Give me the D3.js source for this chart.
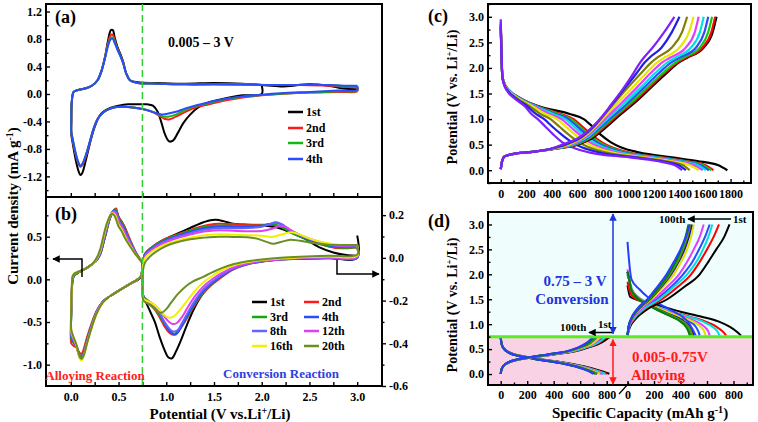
<!DOCTYPE html>
<html><head><meta charset="utf-8">
<script src="https://cdn.jsdelivr.net/npm/d3@7/dist/d3.min.js"></script>
<style>
html,body{margin:0;padding:0;background:#fff;}
svg text{font-family:"Liberation Serif","Times New Roman",serif;font-weight:bold;}
</style></head><body>
<svg id="chart" width="758" height="422"></svg>
<script>
// ---------------- DATA ----------------
// Panel (a): CV curves, [potential V, current mA/g]
const aNames = ["1st","2nd","3rd","4th"];
const aColors = ["#000000","#ff1a1a","#14b814","#2a4bff"];
const aCycle1 = [[2.0,0.12],[2.0,0.0],[1.8,-0.02],[1.6,-0.07],[1.45,-0.12],[1.33,-0.2],[1.25,-0.3],[1.18,-0.42],[1.12,-0.57],[1.07,-0.68],[1.03,-0.69],[0.99,-0.6],[0.95,-0.42],[0.91,-0.26],[0.86,-0.17],[0.8,-0.15],[0.7,-0.15],[0.6,-0.15],[0.5,-0.17],[0.42,-0.2],[0.35,-0.25],[0.3,-0.32],[0.25,-0.48],[0.2,-0.72],[0.16,-0.95],[0.12,-1.15],[0.1,-1.18],[0.08,-1.12],[0.05,-0.95],[0.02,-0.72],[0.005,-0.58],[0.005,-0.4],[0.01,-0.12],[0.03,0.03],[0.08,0.06],[0.15,0.08],[0.22,0.12],[0.28,0.2],[0.32,0.33],[0.36,0.55],[0.39,0.78],[0.42,0.93],[0.44,0.93],[0.46,0.82],[0.49,0.68],[0.52,0.58],[0.55,0.46],[0.58,0.3],[0.62,0.2],[0.7,0.17],[0.9,0.16],[1.2,0.15],[1.5,0.16],[1.8,0.15],[2.0,0.13],[2.2,0.11],[2.5,0.14],[2.7,0.12],[2.85,0.08],[3.0,0.07]];
const aCycle2 = [[3.0,0.1],[3.0,0.04],[2.8,0.03],[2.5,0.02],[2.2,0.0],[2.0,-0.02],[1.8,-0.05],[1.6,-0.1],[1.45,-0.15],[1.3,-0.2],[1.2,-0.26],[1.1,-0.33],[1.03,-0.37],[0.98,-0.36],[0.92,-0.31],[0.85,-0.26],[0.75,-0.22],[0.6,-0.19],[0.48,-0.19],[0.4,-0.22],[0.33,-0.28],[0.28,-0.36],[0.24,-0.5],[0.2,-0.7],[0.16,-0.9],[0.12,-1.04],[0.1,-1.06],[0.08,-1.02],[0.05,-0.88],[0.02,-0.68],[0.005,-0.56],[0.005,-0.4],[0.01,-0.12],[0.03,0.03],[0.08,0.06],[0.15,0.08],[0.22,0.12],[0.28,0.2],[0.32,0.33],[0.36,0.55],[0.39,0.74],[0.42,0.86],[0.44,0.86],[0.46,0.78],[0.49,0.66],[0.52,0.56],[0.55,0.45],[0.58,0.3],[0.62,0.2],[0.7,0.16],[0.9,0.15],[1.2,0.14],[1.5,0.14],[1.8,0.14],[2.1,0.13],[2.4,0.13],[2.7,0.12],[2.9,0.1],[3.0,0.1]];
const aCycle3 = [[3.0,0.1],[3.0,0.05],[2.8,0.04],[2.5,0.02],[2.2,0.005],[2.0,-0.015],[1.8,-0.04],[1.6,-0.08],[1.45,-0.13],[1.3,-0.18],[1.2,-0.23],[1.1,-0.3],[1.02,-0.33],[0.97,-0.33],[0.91,-0.29],[0.84,-0.25],[0.75,-0.22],[0.6,-0.19],[0.48,-0.19],[0.4,-0.22],[0.33,-0.28],[0.28,-0.37],[0.24,-0.5],[0.2,-0.69],[0.16,-0.88],[0.12,-1.02],[0.1,-1.05],[0.08,-1.0],[0.05,-0.86],[0.02,-0.66],[0.005,-0.55],[0.005,-0.4],[0.01,-0.12],[0.03,0.03],[0.08,0.06],[0.15,0.08],[0.22,0.12],[0.28,0.2],[0.32,0.33],[0.36,0.54],[0.39,0.72],[0.42,0.82],[0.44,0.82],[0.46,0.76],[0.49,0.65],[0.52,0.55],[0.55,0.44],[0.58,0.3],[0.62,0.2],[0.7,0.16],[0.9,0.15],[1.2,0.14],[1.5,0.14],[1.8,0.14],[2.1,0.13],[2.4,0.13],[2.7,0.13],[2.9,0.11],[3.0,0.1]];
const aCycle4 = [[3.0,0.12],[3.0,0.06],[2.8,0.05],[2.5,0.03],[2.2,0.01],[2.0,-0.01],[1.8,-0.035],[1.6,-0.075],[1.45,-0.12],[1.3,-0.17],[1.2,-0.21],[1.1,-0.26],[1.0,-0.29],[0.95,-0.3],[0.9,-0.28],[0.83,-0.25],[0.75,-0.22],[0.6,-0.19],[0.48,-0.19],[0.4,-0.22],[0.33,-0.28],[0.28,-0.37],[0.24,-0.5],[0.2,-0.69],[0.16,-0.88],[0.12,-1.02],[0.1,-1.05],[0.08,-1.0],[0.05,-0.86],[0.02,-0.66],[0.005,-0.55],[0.005,-0.4],[0.01,-0.12],[0.03,0.03],[0.08,0.06],[0.15,0.08],[0.22,0.12],[0.28,0.2],[0.32,0.33],[0.36,0.53],[0.39,0.7],[0.42,0.8],[0.44,0.8],[0.46,0.74],[0.49,0.64],[0.52,0.55],[0.55,0.44],[0.58,0.3],[0.62,0.2],[0.7,0.16],[0.9,0.15],[1.2,0.14],[1.5,0.14],[1.8,0.135],[2.1,0.13],[2.4,0.13],[2.7,0.13],[2.9,0.12],[3.0,0.12]];
const aYTicks = [-1.2,-0.8,-0.4,0,0.4,0.8,1.2];
const abXTicks = [0,0.5,1.0,1.5,2.0,2.5,3.0];

// Panel (b): 8 cycles; alloying (left axis) and conversion (right axis)
const bNames = ["1st","2nd","3rd","4th","8th","12th","16th","20th"];
const bColors = ["#000000","#ff1a1a","#12a812","#2a4bff","#6464ff","#e040f0","#f0f000","#6b8e23"];
const bAlloy1 = [[0.75,0.19],[0.735,0.03],[0.7,-0.01],[0.64,-0.04],[0.55,-0.1],[0.45,-0.17],[0.38,-0.22],[0.33,-0.27],[0.27,-0.38],[0.22,-0.53],[0.17,-0.7],[0.135,-0.85],[0.115,-0.91],[0.1,-0.91],[0.08,-0.86],[0.06,-0.79],[0.03,-0.74],[0.006,-0.7],[0.002,-0.56],[0.005,-0.36],[0.01,-0.17],[0.02,0.0],[0.04,0.05],[0.08,0.08],[0.13,0.11],[0.19,0.15],[0.24,0.19],[0.28,0.24],[0.31,0.3],[0.34,0.42],[0.37,0.55],[0.4,0.68],[0.43,0.77],[0.46,0.81],[0.48,0.79],[0.5,0.73],[0.53,0.68],[0.56,0.62],[0.59,0.53],[0.62,0.45],[0.67,0.33],[0.72,0.24],[0.75,0.19]];
const bAlloy2 = [[0.75,0.2],[0.735,0.04],[0.7,0.0],[0.64,-0.04],[0.55,-0.1],[0.45,-0.17],[0.38,-0.22],[0.33,-0.27],[0.27,-0.37],[0.22,-0.51],[0.17,-0.68],[0.135,-0.82],[0.115,-0.87],[0.1,-0.87],[0.08,-0.84],[0.06,-0.8],[0.03,-0.78],[0.006,-0.75],[0.0,-0.6],[0.004,-0.38],[0.01,-0.18],[0.02,0.0],[0.04,0.05],[0.08,0.08],[0.13,0.11],[0.19,0.15],[0.24,0.19],[0.28,0.24],[0.31,0.3],[0.34,0.42],[0.37,0.55],[0.4,0.68],[0.43,0.78],[0.46,0.82],[0.475,0.83],[0.49,0.77],[0.51,0.71],[0.54,0.66],[0.57,0.6],[0.6,0.52],[0.63,0.44],[0.68,0.32],[0.72,0.25],[0.75,0.2]];
const bAlloy3 = [[0.75,0.2],[0.735,0.04],[0.7,0.0],[0.64,-0.04],[0.55,-0.1],[0.45,-0.17],[0.38,-0.22],[0.33,-0.27],[0.27,-0.38],[0.22,-0.53],[0.17,-0.71],[0.135,-0.86],[0.115,-0.9],[0.1,-0.9],[0.08,-0.85],[0.06,-0.78],[0.03,-0.74],[0.006,-0.7],[0.002,-0.56],[0.005,-0.36],[0.01,-0.17],[0.02,0.01],[0.04,0.05],[0.08,0.08],[0.13,0.11],[0.19,0.15],[0.24,0.19],[0.28,0.24],[0.31,0.3],[0.34,0.42],[0.37,0.55],[0.4,0.68],[0.43,0.77],[0.46,0.82],[0.47,0.82],[0.49,0.76],[0.51,0.7],[0.54,0.65],[0.57,0.58],[0.6,0.5],[0.63,0.43],[0.68,0.31],[0.72,0.24],[0.75,0.2]];
const bAlloy4 = [[0.75,0.2],[0.735,0.04],[0.7,0.0],[0.64,-0.04],[0.55,-0.1],[0.45,-0.17],[0.38,-0.22],[0.33,-0.27],[0.27,-0.39],[0.22,-0.54],[0.17,-0.72],[0.135,-0.87],[0.115,-0.92],[0.1,-0.92],[0.08,-0.87],[0.06,-0.79],[0.03,-0.73],[0.006,-0.68],[0.002,-0.55],[0.005,-0.35],[0.01,-0.16],[0.02,0.01],[0.04,0.06],[0.08,0.09],[0.13,0.11],[0.19,0.15],[0.24,0.19],[0.28,0.24],[0.31,0.31],[0.34,0.44],[0.37,0.57],[0.4,0.7],[0.43,0.78],[0.455,0.81],[0.47,0.8],[0.49,0.74],[0.51,0.68],[0.54,0.63],[0.57,0.56],[0.6,0.49],[0.63,0.42],[0.68,0.31],[0.72,0.24],[0.75,0.2]];
const bAlloy8 = [[0.75,0.2],[0.735,0.04],[0.7,0.0],[0.64,-0.04],[0.55,-0.1],[0.45,-0.17],[0.38,-0.22],[0.33,-0.27],[0.27,-0.39],[0.22,-0.55],[0.17,-0.73],[0.135,-0.88],[0.115,-0.93],[0.1,-0.93],[0.08,-0.87],[0.06,-0.79],[0.03,-0.72],[0.006,-0.66],[0.002,-0.54],[0.005,-0.34],[0.01,-0.15],[0.02,0.02],[0.04,0.06],[0.08,0.09],[0.13,0.11],[0.19,0.15],[0.24,0.19],[0.28,0.25],[0.31,0.32],[0.34,0.45],[0.37,0.58],[0.4,0.7],[0.43,0.78],[0.45,0.8],[0.47,0.79],[0.49,0.73],[0.51,0.67],[0.54,0.62],[0.57,0.55],[0.6,0.48],[0.63,0.41],[0.68,0.3],[0.72,0.24],[0.75,0.2]];
const bAlloy12 = [[0.75,0.2],[0.735,0.04],[0.7,0.0],[0.64,-0.04],[0.55,-0.1],[0.45,-0.17],[0.38,-0.22],[0.33,-0.27],[0.27,-0.39],[0.22,-0.55],[0.17,-0.74],[0.135,-0.89],[0.115,-0.93],[0.1,-0.93],[0.08,-0.87],[0.06,-0.78],[0.03,-0.7],[0.006,-0.64],[0.002,-0.53],[0.005,-0.33],[0.01,-0.14],[0.02,0.03],[0.04,0.07],[0.08,0.09],[0.13,0.11],[0.19,0.15],[0.24,0.19],[0.28,0.25],[0.31,0.33],[0.34,0.46],[0.37,0.59],[0.4,0.71],[0.43,0.78],[0.445,0.79],[0.465,0.78],[0.49,0.72],[0.51,0.66],[0.54,0.6],[0.57,0.53],[0.6,0.46],[0.63,0.4],[0.68,0.3],[0.72,0.24],[0.75,0.2]];
const bAlloy16 = [[0.75,0.2],[0.735,0.04],[0.7,0.0],[0.64,-0.04],[0.55,-0.1],[0.45,-0.17],[0.38,-0.22],[0.33,-0.28],[0.27,-0.4],[0.22,-0.56],[0.17,-0.75],[0.135,-0.9],[0.115,-0.95],[0.1,-0.94],[0.08,-0.88],[0.06,-0.78],[0.03,-0.69],[0.006,-0.62],[0.002,-0.52],[0.005,-0.32],[0.01,-0.13],[0.02,0.04],[0.04,0.07],[0.08,0.09],[0.13,0.11],[0.19,0.15],[0.24,0.19],[0.28,0.26],[0.31,0.34],[0.34,0.48],[0.37,0.61],[0.4,0.72],[0.425,0.77],[0.44,0.775],[0.46,0.76],[0.48,0.71],[0.5,0.64],[0.53,0.59],[0.56,0.52],[0.59,0.45],[0.63,0.38],[0.68,0.29],[0.72,0.24],[0.75,0.2]];
const bAlloy20 = [[0.75,0.2],[0.735,0.04],[0.7,0.0],[0.64,-0.04],[0.55,-0.1],[0.45,-0.17],[0.38,-0.22],[0.33,-0.28],[0.27,-0.4],[0.22,-0.56],[0.17,-0.75],[0.135,-0.89],[0.115,-0.93],[0.1,-0.92],[0.08,-0.86],[0.06,-0.77],[0.03,-0.68],[0.006,-0.6],[0.002,-0.5],[0.005,-0.3],[0.01,-0.12],[0.02,0.04],[0.04,0.07],[0.08,0.09],[0.13,0.11],[0.19,0.15],[0.24,0.2],[0.28,0.27],[0.31,0.36],[0.34,0.5],[0.37,0.63],[0.4,0.72],[0.42,0.76],[0.435,0.765],[0.455,0.75],[0.475,0.7],[0.5,0.62],[0.53,0.57],[0.56,0.5],[0.59,0.44],[0.63,0.37],[0.68,0.29],[0.72,0.24],[0.75,0.2]];
const bConv1 = [[3.0,0.105],[3.0,0.0],[2.7,-0.002],[2.4,-0.004],[2.2,-0.007],[2.0,-0.013],[1.85,-0.025],[1.7,-0.05],[1.58,-0.08],[1.48,-0.12],[1.38,-0.17],[1.3,-0.23],[1.22,-0.31],[1.15,-0.39],[1.1,-0.44],[1.06,-0.47],[1.02,-0.465],[0.98,-0.43],[0.93,-0.37],[0.88,-0.3],[0.83,-0.25],[0.78,-0.2],[0.755,-0.17],[0.75,-0.1],[0.755,-0.02],[0.78,0.02],[0.85,0.05],[0.95,0.08],[1.05,0.1],[1.15,0.12],[1.25,0.14],[1.35,0.16],[1.45,0.175],[1.52,0.178],[1.6,0.172],[1.7,0.16],[1.85,0.155],[2.0,0.153],[2.15,0.143],[2.3,0.12],[2.45,0.09],[2.6,0.05],[2.75,0.025],[2.9,0.012],[3.0,0.01]];
const bConv2 = [[3.0,0.05],[3.0,0.005],[2.7,0.003],[2.4,-0.002],[2.2,-0.008],[2.0,-0.018],[1.85,-0.03],[1.7,-0.055],[1.58,-0.09],[1.48,-0.125],[1.38,-0.17],[1.3,-0.22],[1.22,-0.28],[1.15,-0.33],[1.1,-0.355],[1.07,-0.36],[1.03,-0.35],[0.98,-0.32],[0.92,-0.27],[0.86,-0.23],[0.8,-0.2],[0.76,-0.18],[0.75,-0.1],[0.755,-0.02],[0.78,0.02],[0.85,0.05],[0.95,0.08],[1.05,0.1],[1.15,0.115],[1.25,0.13],[1.35,0.145],[1.45,0.155],[1.55,0.16],[1.7,0.158],[1.85,0.155],[2.0,0.155],[2.1,0.155],[2.2,0.145],[2.35,0.115],[2.5,0.085],[2.65,0.06],[2.8,0.045],[3.0,0.05]];
const bConv3 = [[3.0,0.05],[3.0,0.005],[2.7,0.003],[2.4,-0.001],[2.2,-0.007],[2.0,-0.016],[1.85,-0.028],[1.7,-0.05],[1.58,-0.085],[1.48,-0.12],[1.38,-0.165],[1.3,-0.215],[1.22,-0.275],[1.16,-0.32],[1.11,-0.35],[1.08,-0.355],[1.04,-0.345],[0.99,-0.315],[0.93,-0.27],[0.87,-0.23],[0.81,-0.2],[0.76,-0.18],[0.75,-0.1],[0.755,-0.02],[0.78,0.02],[0.85,0.048],[0.95,0.077],[1.05,0.097],[1.15,0.112],[1.25,0.127],[1.35,0.14],[1.45,0.148],[1.55,0.152],[1.7,0.15],[1.85,0.15],[2.0,0.152],[2.1,0.158],[2.18,0.15],[2.3,0.12],[2.45,0.09],[2.6,0.065],[2.8,0.048],[3.0,0.05]];
const bConv4 = [[3.0,0.055],[3.0,0.0],[2.7,0.0],[2.4,-0.003],[2.2,-0.008],[2.0,-0.017],[1.85,-0.03],[1.7,-0.052],[1.58,-0.085],[1.48,-0.118],[1.38,-0.16],[1.3,-0.21],[1.22,-0.27],[1.16,-0.32],[1.12,-0.35],[1.09,-0.36],[1.05,-0.35],[1.0,-0.32],[0.94,-0.27],[0.88,-0.23],[0.82,-0.21],[0.77,-0.2],[0.75,-0.12],[0.755,-0.03],[0.78,0.015],[0.85,0.045],[0.95,0.073],[1.05,0.093],[1.15,0.108],[1.25,0.122],[1.35,0.134],[1.45,0.142],[1.55,0.146],[1.7,0.145],[1.85,0.146],[2.0,0.15],[2.08,0.158],[2.15,0.165],[2.2,0.158],[2.3,0.128],[2.45,0.095],[2.6,0.07],[2.8,0.052],[3.0,0.055]];
const bConv8 = [[3.0,0.055],[3.0,0.0],[2.7,0.0],[2.4,-0.002],[2.2,-0.007],[2.0,-0.016],[1.85,-0.028],[1.7,-0.05],[1.58,-0.08],[1.48,-0.112],[1.38,-0.152],[1.3,-0.2],[1.22,-0.26],[1.16,-0.31],[1.12,-0.338],[1.08,-0.345],[1.04,-0.335],[0.99,-0.305],[0.93,-0.26],[0.87,-0.225],[0.81,-0.205],[0.77,-0.195],[0.75,-0.12],[0.755,-0.03],[0.78,0.012],[0.85,0.042],[0.95,0.07],[1.05,0.089],[1.15,0.103],[1.25,0.116],[1.35,0.128],[1.45,0.135],[1.55,0.139],[1.7,0.139],[1.85,0.14],[2.0,0.146],[2.08,0.157],[2.15,0.167],[2.21,0.158],[2.3,0.13],[2.45,0.097],[2.6,0.072],[2.8,0.055],[3.0,0.055]];
const bConv12 = [[3.0,0.06],[3.0,0.005],[2.7,0.002],[2.4,-0.001],[2.2,-0.006],[2.0,-0.014],[1.85,-0.025],[1.7,-0.045],[1.58,-0.072],[1.48,-0.1],[1.38,-0.138],[1.3,-0.18],[1.22,-0.235],[1.16,-0.28],[1.11,-0.305],[1.07,-0.31],[1.03,-0.3],[0.98,-0.275],[0.92,-0.24],[0.86,-0.215],[0.8,-0.2],[0.76,-0.19],[0.75,-0.12],[0.755,-0.03],[0.78,0.008],[0.85,0.038],[0.95,0.065],[1.05,0.083],[1.15,0.097],[1.25,0.109],[1.35,0.12],[1.45,0.126],[1.55,0.129],[1.7,0.127],[1.85,0.125],[2.0,0.126],[2.1,0.135],[2.2,0.15],[2.26,0.142],[2.35,0.118],[2.5,0.09],[2.65,0.07],[2.8,0.058],[3.0,0.06]];
const bConv16 = [[3.0,0.06],[3.0,0.01],[2.7,0.006],[2.4,0.002],[2.2,-0.003],[2.0,-0.01],[1.85,-0.02],[1.7,-0.036],[1.58,-0.058],[1.48,-0.085],[1.38,-0.118],[1.3,-0.155],[1.22,-0.2],[1.15,-0.24],[1.09,-0.27],[1.04,-0.28],[1.0,-0.275],[0.95,-0.255],[0.9,-0.23],[0.84,-0.21],[0.79,-0.2],[0.76,-0.19],[0.75,-0.12],[0.755,-0.04],[0.78,0.0],[0.85,0.03],[0.95,0.055],[1.05,0.072],[1.15,0.085],[1.25,0.095],[1.35,0.103],[1.45,0.108],[1.55,0.11],[1.7,0.108],[1.85,0.106],[2.0,0.104],[2.1,0.098],[2.2,0.108],[2.3,0.12],[2.38,0.112],[2.5,0.09],[2.65,0.072],[2.8,0.062],[3.0,0.06]];
const bConv20 = [[3.0,0.06],[3.0,0.015],[2.7,0.01],[2.4,0.005],[2.2,0.0],[2.0,-0.008],[1.85,-0.016],[1.7,-0.03],[1.58,-0.048],[1.48,-0.068],[1.38,-0.09],[1.28,-0.11],[1.2,-0.135],[1.12,-0.17],[1.05,-0.21],[1.0,-0.24],[0.96,-0.255],[0.93,-0.256],[0.89,-0.245],[0.84,-0.225],[0.79,-0.21],[0.76,-0.2],[0.75,-0.13],[0.755,-0.06],[0.78,-0.02],[0.85,0.015],[0.95,0.045],[1.05,0.065],[1.15,0.078],[1.25,0.087],[1.35,0.093],[1.45,0.097],[1.55,0.099],[1.7,0.098],[1.85,0.097],[1.95,0.09],[2.05,0.075],[2.12,0.066],[2.2,0.074],[2.3,0.085],[2.4,0.08],[2.5,0.072],[2.7,0.062],[3.0,0.06]];
const bLeftTicks = [-1.0,-0.5,0,0.5];
const bRightTicks = [-0.6,-0.4,-0.2,0,0.2];

// Panel (c): galvanostatic profiles, capacity (mAh/g) at given potentials
const cColors = ["#000000","#ff0000","#14c814","#2a4bff","#00e0e0","#e040ff","#e8e800","#808000","#2020e6","#8020ff"];
const cDisV = [2.9,1.85,1.7,1.55,1.4,1.25,1.1,1.0,0.85,0.7,0.55,0.45,0.35,0.25,0.18,0.1,0.0];
const cDisStart = [2.85,2.9,2.8,2.85,2.75,2.8,2.9,2.85,2.8,2.95];
const cDisCap = [
 [0,12,28,70,160,300,540,650,720,780,860,940,1080,1340,1540,1700,1775],
 [0,12,28,70,160,290,470,570,640,710,790,870,1000,1260,1450,1600,1665],
 [0,12,28,70,158,286,450,550,620,690,770,850,980,1240,1430,1580,1650],
 [0,12,28,70,155,280,430,530,600,670,750,830,960,1220,1410,1560,1630],
 [0,12,27,68,150,272,410,505,575,645,725,805,935,1195,1390,1540,1605],
 [0,12,26,65,145,262,380,475,545,615,695,775,905,1165,1360,1510,1580],
 [0,12,25,62,140,248,350,440,510,580,660,740,870,1130,1325,1475,1550],
 [0,12,24,58,130,228,310,390,460,530,610,690,820,1085,1285,1425,1480],
 [0,12,23,55,120,208,275,340,405,475,555,635,765,1050,1250,1390,1450],
 [0,12,22,50,110,188,240,290,350,410,480,560,690,1010,1220,1360,1420]
];
const cChgV = [0.02,0.15,0.27,0.32,0.36,0.42,0.5,0.65,0.85,1.05,1.3,1.6,1.9,2.1,2.2,2.4,2.7,3.0];
const cChgCap = [
 [0,8,30,100,250,430,600,730,830,920,1040,1170,1300,1390,1460,1590,1660,1690],
 [0,8,30,100,250,425,590,715,815,905,1025,1155,1285,1380,1450,1580,1650,1680],
 [0,8,30,100,250,420,580,705,800,890,1010,1140,1270,1365,1430,1560,1625,1655],
 [0,8,30,100,250,415,570,690,785,875,990,1115,1240,1330,1400,1530,1595,1625],
 [0,8,30,100,250,410,560,680,770,855,965,1090,1210,1300,1365,1490,1560,1590],
 [0,8,30,100,250,405,545,665,755,835,940,1060,1175,1260,1325,1450,1520,1550],
 [0,8,30,100,250,400,530,650,740,815,910,1025,1140,1220,1280,1400,1475,1510],
 [0,8,30,100,250,395,515,640,730,800,885,990,1100,1175,1225,1340,1420,1460],
 [0,8,30,100,250,392,500,630,725,795,875,970,1065,1125,1165,1260,1340,1400],
 [0,8,30,100,250,390,480,620,720,795,870,960,1040,1090,1120,1190,1280,1360]
];
const cXTicks = [0,200,400,600,800,1000,1200,1400,1600,1800];
const cdYTicks = [0,0.5,1.0,1.5,2.0,2.5,3.0];

// Panel (d): split-window cycling (1st ... 100th)
const dColors = ["#000000","#ff0000","#2a4bff","#00e0e0","#e040ff","#e0e000","#101090","#808000","#20b020","#0a7a0a","#2a3cff"];
const dStartV = [1.78,1.85,2.05,2.0,2.1,2.0,2.05,2.0,2.0,2.05,2.65];
const rdV = [1.9,1.7,1.55,1.45,1.35,1.25,1.15,1.05,0.95,0.85,0.77];
const rdCap = [
 [null,null,20,130,270,400,560,690,770,825,857],
 [null,12,40,110,215,330,470,590,670,720,745],
 [12,30,70,125,200,290,390,470,515,535,545],
 [12,35,80,140,225,330,460,570,640,680,695],
 [12,32,75,130,210,305,420,520,580,610,620],
 [12,30,72,128,205,295,400,495,550,580,590],
 [12,28,68,120,190,270,360,430,470,490,500],
 [12,28,66,118,185,262,350,420,460,480,490],
 [12,27,64,115,180,255,340,410,450,470,480],
 [12,26,62,112,175,250,330,400,440,460,470],
 [30,90,150,210,280,350,415,455,480,500,515]
];
const rcV = [0.78,0.95,1.1,1.3,1.5,1.75,2.0,2.25,2.5,2.75,3.0];
const rcCap = [
 [0,20,60,150,300,430,545,610,670,730,770],
 [0,15,50,130,260,380,480,545,600,650,690],
 [0,12,40,110,220,330,420,490,540,585,620],
 [0,14,45,120,240,350,450,520,570,610,640],
 [0,12,38,100,200,300,390,450,500,545,575],
 [0,10,32,90,180,270,350,405,450,480,500],
 [0,9,30,85,170,255,330,385,430,462,485],
 [0,9,30,82,165,250,322,378,420,452,475],
 [0,8,28,80,160,245,315,370,412,445,468],
 [0,8,27,78,158,240,310,362,405,438,460],
 [0,8,25,70,150,225,295,350,400,440,470]
];
const ldV = [0.75,0.62,0.52,0.43,0.37,0.33,0.28,0.24,0.19,0.12,0.05,0.005];
const ldCap = [
 [0,5,22,70,140,230,340,450,560,680,770,820],
 [0,5,22,68,136,225,332,440,548,665,752,800],
 [0,5,21,66,132,220,325,430,535,645,730,775],
 [0,5,21,67,134,222,328,435,540,655,740,790],
 [0,5,21,65,130,215,320,423,527,635,715,760],
 [0,5,21,64,128,212,316,418,520,628,706,750],
 [0,5,20,62,124,206,308,408,510,614,688,728],
 [0,5,20,62,124,205,306,406,508,612,686,725],
 [0,5,20,61,122,203,304,404,505,608,680,718],
 [0,5,20,61,122,202,302,402,503,605,676,712],
 [0,5,20,60,120,200,300,400,500,600,670,700]
];
const lcV = [0.005,0.08,0.16,0.24,0.29,0.33,0.37,0.41,0.46,0.53,0.63,0.75];
const lcCap = [
 [0,5,22,70,140,230,340,450,570,660,760,825],
 [0,5,22,68,137,226,334,443,560,648,745,805],
 [0,5,21,66,133,221,327,433,546,632,725,780],
 [0,5,21,67,135,223,330,438,552,640,735,792],
 [0,5,21,65,131,216,321,425,537,620,712,765],
 [0,5,21,64,129,213,317,420,530,612,703,755],
 [0,5,20,62,125,207,309,410,516,596,680,730],
 [0,5,20,62,124,206,307,408,514,594,677,726],
 [0,5,20,61,123,204,305,405,510,590,670,720],
 [0,5,20,61,122,202,303,403,506,586,664,712],
 [0,5,20,60,120,200,300,400,500,580,650,700]
];
const dXTicks = [0,200,400,600,800];

// ---------------- DRAWING ----------------
const svg = d3.select("#chart");
const defs = svg.append("defs");
function mk(id, color){
  defs.append("marker").attr("id",id).attr("viewBox","0 0 10 10").attr("refX",9).attr("refY",5)
    .attr("markerWidth",5).attr("markerHeight",5).attr("orient","auto-start-reverse")
    .append("path").attr("d","M0,0L10,5L0,10z").attr("fill",color);
}
mk("arrK","#000"); mk("arrB","#2233dd"); mk("arrR","#ff1a1a");
const fmt1 = d => d.toFixed(1);
function styleAxis(g, fs){
  g.attr("font-size", fs||12);
  g.select(".domain").remove();
  g.selectAll("line").attr("stroke","#000").attr("stroke-width",1.4);
  g.selectAll("text").attr("fill","#000");
}
function ax(gen, tx, ty){ const g = svg.append("g").attr("transform",`translate(${tx},${ty})`).call(gen); styleAxis(g); return g; }

// Scales
const xAB = d3.scaleLinear().domain([-0.26,3.26]).range([46,382]);
const yA = d3.scaleLinear().domain([-1.5,1.31]).range([197,4]);
const yBL = d3.scaleLinear().domain([-1.25,0.965]).range([386,197]);
const yBR = d3.scaleLinear().domain([-0.6,0.285]).range([386,197]);
const xC = d3.scaleLinear().domain([-100,1960]).range([488,751]);
const yC = d3.scaleLinear().domain([-0.25,3.25]).range([183,4]);
const xDL = d3.scaleLinear().domain([0,800]).range([500.7,606.7]);
const xDR = d3.scaleLinear().domain([0,800]).range([627.5,733.5]);
const yD = d3.scaleLinear().domain([-0.22,3.25]).range([385,212]);

const lineCR = (sx, sy) => d3.line().x(d=>sx(d[0])).y(d=>sy(d[1])).curve(d3.curveCatmullRom.alpha(0.5));
const lineMX = (sx, sy) => d3.line().x(d=>sx(d[0])).y(d=>sy(d[1])).curve(d3.curveMonotoneX);

// ----- Panel (d) background -----
svg.append("rect").attr("x",488).attr("y",212).attr("width",265).attr("height",yD(0.75)-212).attr("fill","#effdfd");
svg.append("rect").attr("x",488).attr("y",yD(0.75)).attr("width",265).attr("height",385-yD(0.75)).attr("fill","#f9d3e5");

// ----- Panel (a) -----
const aCurves = [aCycle1,aCycle2,aCycle3,aCycle4];
aCurves.forEach((c,i)=>{
  svg.append("path").attr("d",lineCR(xAB,yA)(c)).attr("fill","none").attr("stroke",aColors[i]).attr("stroke-width",2);
});
// ----- Panel (b) -----
const bAlloy = [bAlloy1,bAlloy2,bAlloy3,bAlloy4,bAlloy8,bAlloy12,bAlloy16,bAlloy20];
const bConv = [bConv1,bConv2,bConv3,bConv4,bConv8,bConv12,bConv16,bConv20];
bAlloy.forEach((c,i)=>{
  svg.append("path").attr("d",lineCR(xAB,yBL)(c)).attr("fill","none").attr("stroke",bColors[i]).attr("stroke-width",2);
});
bConv.forEach((c,i)=>{
  svg.append("path").attr("d",lineCR(xAB,yBR)(c)).attr("fill","none").attr("stroke",bColors[i]).attr("stroke-width",2);
});

// frames a, b
svg.append("rect").attr("x",46).attr("y",4).attr("width",336).attr("height",193).attr("fill","none").attr("stroke","#000").attr("stroke-width",2);
svg.append("rect").attr("x",46).attr("y",197).attr("width",336).attr("height",189).attr("fill","none").attr("stroke","#000").attr("stroke-width",2);

// axes a
const abMinor = [0,0.25,0.5,0.75,1.0,1.25,1.5,1.75,2.0,2.25,2.5,2.75,3.0];
ax(d3.axisBottom(xAB).tickValues(abMinor).tickSize(-4).tickFormat(""),0,197);
ax(d3.axisLeft(yA).tickValues(aYTicks).tickSize(-4).tickPadding(4).tickFormat(fmt1),46,0);
ax(d3.axisLeft(yA).tickValues([-1.4,-1.0,-0.6,-0.2,0.2,0.6,1.0]).tickSize(-2.5).tickFormat(""),46,0);
// axes b
ax(d3.axisBottom(xAB).tickValues(abMinor).tickSize(-4).tickFormat(""),0,386);
ax(d3.axisBottom(xAB).tickValues(abXTicks).tickSize(0).tickPadding(6).tickFormat(fmt1),0,386);
ax(d3.axisLeft(yBL).tickValues(bLeftTicks).tickSize(-4).tickPadding(4).tickFormat(fmt1),46,0);
ax(d3.axisLeft(yBL).tickValues([-0.75,-0.25,0.25,0.75]).tickSize(-2.5).tickFormat(""),46,0);
ax(d3.axisRight(yBR).tickValues(bRightTicks).tickSize(4).tickPadding(3).tickFormat(fmt1),382,0);
ax(d3.axisRight(yBR).tickValues([-0.5,-0.3,-0.1,0.1]).tickSize(2.5).tickFormat(""),382,0);

// green dashed separator
svg.append("line").attr("x1",xAB(0.75)).attr("x2",xAB(0.75)).attr("y1",4).attr("y2",386)
  .attr("stroke","#33cc33").attr("stroke-width",1.5).attr("stroke-dasharray","7,4");

// labels a
svg.append("text").attr("x",55).attr("y",23).attr("font-size",18).text("(a)");
svg.append("text").attr("x",168).attr("y",47).attr("font-size",14).text("0.005 – 3 V");
const aLegY = [112,128,143,159];
aNames.forEach((n,i)=>{
  svg.append("line").attr("x1",288).attr("x2",303).attr("y1",aLegY[i]).attr("y2",aLegY[i]).attr("stroke",aColors[i]).attr("stroke-width",2.5);
  svg.append("text").attr("x",306).attr("y",aLegY[i]+4).attr("font-size",12).text(n);
});
// labels b
svg.append("text").attr("x",55).attr("y",220).attr("font-size",18).text("(b)");
const bLegX = [252,304], bLegY = [302,317,331,346];
bNames.forEach((n,i)=>{
  const col = i%2, row = Math.floor(i/2);
  svg.append("line").attr("x1",bLegX[col]).attr("x2",bLegX[col]+15).attr("y1",bLegY[row]).attr("y2",bLegY[row]).attr("stroke",bColors[i]).attr("stroke-width",2.5);
  svg.append("text").attr("x",bLegX[col]+18).attr("y",bLegY[row]+4).attr("font-size",12).text(n);
});
svg.append("text").attr("x",95).attr("y",380).attr("text-anchor","middle").attr("font-size",13).attr("fill","#ff2020").text("Alloying Reaction");
svg.append("text").attr("x",281).attr("y",378).attr("text-anchor","middle").attr("font-size",13).attr("fill","#3040e0").text("Conversion Reaction");
// b arrows
svg.append("path").attr("d","M82,277L82,259L53,259").attr("fill","none").attr("stroke","#000").attr("stroke-width",1.5).attr("marker-end","url(#arrK)");
svg.append("path").attr("d","M337,260L337,274L379,274").attr("fill","none").attr("stroke","#000").attr("stroke-width",1.5).attr("marker-end","url(#arrK)");

// axis titles a/b
svg.append("text").attr("transform","translate(18,206) rotate(-90)").attr("text-anchor","middle").attr("font-size",15)
  .html('Current density (mA g<tspan dy="-5" font-size="10">-1</tspan><tspan dy="5">)</tspan>');
svg.append("text").attr("x",220).attr("y",419).attr("text-anchor","middle").attr("font-size",15)
  .html('Potential (V vs.Li<tspan dy="-5" font-size="10">+</tspan><tspan dy="5">/Li)</tspan>');

// ----- Panel (c) -----
cDisCap.forEach((caps,i)=>{
  const pts = caps.map((c,j)=>[c, j===0 ? cDisStart[i] : cDisV[j]]);
  svg.append("path").attr("d",lineMX(xC,yC)(pts)).attr("fill","none").attr("stroke",cColors[i]).attr("stroke-width",2.2);
});
cChgCap.forEach((caps,i)=>{
  const pts = caps.map((c,j)=>[c, cChgV[j]]);
  svg.append("path").attr("d",lineMX(xC,yC)(pts)).attr("fill","none").attr("stroke",cColors[i]).attr("stroke-width",2.2);
});
svg.append("rect").attr("x",488).attr("y",4).attr("width",263).attr("height",179).attr("fill","none").attr("stroke","#000").attr("stroke-width",2);
ax(d3.axisBottom(xC).tickValues(cXTicks).tickSize(-4).tickPadding(6).tickFormat(d3.format("d")),0,183);
ax(d3.axisBottom(xC).tickValues([100,300,500,700,900,1100,1300,1500,1700,1900]).tickSize(-2.5).tickFormat(""),0,183);
ax(d3.axisLeft(yC).tickValues(cdYTicks).tickSize(-4).tickPadding(4).tickFormat(fmt1),488,0);
ax(d3.axisLeft(yC).tickValues([-0.25,0.25,0.75,1.25,1.75,2.25,2.75,3.25]).tickSize(-2.5).tickFormat(""),488,0);
svg.append("text").attr("x",428).attr("y",22).attr("font-size",18).text("(c)");
svg.append("text").attr("transform","translate(457,97) rotate(-90)").attr("text-anchor","middle").attr("font-size",14)
  .html('Potential (V vs. Li<tspan dy="-5" font-size="9">+</tspan><tspan dy="5">/Li)</tspan>');

// ----- Panel (d) -----
ldCap.forEach((caps,i)=>{
  const pts = caps.map((c,j)=>[c, ldV[j]]);
  svg.append("path").attr("d",lineMX(xDL,yD)(pts)).attr("fill","none").attr("stroke",dColors[i]).attr("stroke-width",2);
});
lcCap.forEach((caps,i)=>{
  const pts = caps.map((c,j)=>[c, lcV[j]]);
  svg.append("path").attr("d",lineMX(xDL,yD)(pts)).attr("fill","none").attr("stroke",dColors[i]).attr("stroke-width",2);
});
rdCap.forEach((caps,i)=>{
  const pts = [[0,dStartV[i]]];
  caps.forEach((c,j)=>{ if(c!==null) pts.push([c, rdV[j]]); });
  svg.append("path").attr("d",lineMX(xDR,yD)(pts)).attr("fill","none").attr("stroke",dColors[i]).attr("stroke-width",2);
});
rcCap.forEach((caps,i)=>{
  const pts = caps.map((c,j)=>[c, rcV[j]]);
  svg.append("path").attr("d",lineMX(xDR,yD)(pts)).attr("fill","none").attr("stroke",dColors[i]).attr("stroke-width",2);
});
svg.append("line").attr("x1",488).attr("x2",753).attr("y1",yD(0.75)).attr("y2",yD(0.75)).attr("stroke","#55ee22").attr("stroke-width",3);
svg.append("rect").attr("x",488).attr("y",212).attr("width",265).attr("height",173).attr("fill","none").attr("stroke","#000").attr("stroke-width",2);
ax(d3.axisBottom(xDL).tickValues(dXTicks).tickSize(-4).tickPadding(5).tickFormat(d3.format("d")),0,385);
ax(d3.axisBottom(xDL).tickValues([100,300,500,700]).tickSize(-2.5).tickFormat(""),0,385);
ax(d3.axisBottom(xDR).tickValues(dXTicks).tickSize(-4).tickPadding(5).tickFormat(d3.format("d")),0,385);
ax(d3.axisBottom(xDR).tickValues([100,300,500,700,900]).tickSize(-2.5).tickFormat(""),0,385);
ax(d3.axisLeft(yD).tickValues(cdYTicks).tickSize(-4).tickPadding(4).tickFormat(fmt1),488,0);
ax(d3.axisLeft(yD).tickValues([0.25,0.75,1.25,1.75,2.25,2.75]).tickSize(-2.5).tickFormat(""),488,0);
svg.append("line").attr("x1",619).attr("y1",394).attr("x2",629).attr("y2",383).attr("stroke","#000").attr("stroke-width",1.2);
svg.append("line").attr("x1",613).attr("x2",613).attr("y1",yD(0.75)-3).attr("y2",214).attr("stroke","#2233dd").attr("stroke-width",1.5)
  .attr("marker-start","url(#arrB)").attr("marker-end","url(#arrB)");
svg.append("line").attr("x1",613).attr("x2",613).attr("y1",yD(0.75)+3).attr("y2",384).attr("stroke","#ff1a1a").attr("stroke-width",1.5)
  .attr("marker-start","url(#arrR)").attr("marker-end","url(#arrR)");
svg.append("text").attr("x",575).attr("y",286).attr("text-anchor","middle").attr("font-size",15).attr("fill","#2233dd").text("0.75 – 3 V");
svg.append("text").attr("x",572).attr("y",304).attr("text-anchor","middle").attr("font-size",15).attr("fill","#2233dd").text("Conversion");
svg.append("text").attr("x",670).attr("y",362).attr("text-anchor","middle").attr("font-size",15).attr("fill","#ff1a1a").text("0.005-0.75V");
svg.append("text").attr("x",658).attr("y",380).attr("text-anchor","middle").attr("font-size",15).attr("fill","#ff1a1a").text("Alloying");
svg.append("text").attr("x",659).attr("y",223).attr("font-size",11).text("100th");
svg.append("text").attr("x",733).attr("y",223).attr("font-size",11).text("1st");
svg.append("line").attr("x1",731).attr("x2",688).attr("y1",219).attr("y2",219).attr("stroke","#000").attr("stroke-width",1.5).attr("marker-end","url(#arrK)");
svg.append("text").attr("x",560).attr("y",331).attr("font-size",11).text("100th");
svg.append("text").attr("x",598).attr("y",328).attr("font-size",11).text("1st");
svg.append("line").attr("x1",612).attr("x2",589).attr("y1",332.5).attr("y2",332.5).attr("stroke","#000").attr("stroke-width",1.5).attr("marker-end","url(#arrK)");
svg.append("text").attr("x",428).attr("y",227).attr("font-size",18).text("(d)");
svg.append("text").attr("transform","translate(457,305) rotate(-90)").attr("text-anchor","middle").attr("font-size",14)
  .html('Potential (V vs. Li<tspan dy="-5" font-size="9">+</tspan><tspan dy="5">/Li)</tspan>');
svg.append("text").attr("x",640).attr("y",418).attr("text-anchor","middle").attr("font-size",15)
  .html('Specific Capacity (mAh g<tspan dy="-5" font-size="10">-1</tspan><tspan dy="5">)</tspan>');
</script></body></html>
